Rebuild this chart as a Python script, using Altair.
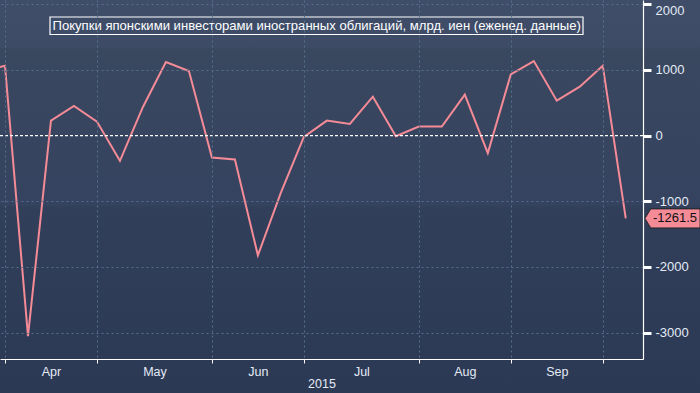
import altair as alt
import pandas as pd

# weekly data, index 0 = first week of April 2015 (index -1 = last week of March, clipped)
week_idx = list(range(-1, 28))
values = [980, 1064, -3055, 228, 451, 213, -385, 436, 1120, 983, -334, -365, -1824,
          -870, -20, 228, 178, 593, -10, 137, 137, 623, -267, 933, 1135, 532, 745, 1064, -1261.5]

months = ["Apr", "May", "Jun", "Jul", "Aug", "Sep", ""]
month_start_idx = [0, 4, 9, 13, 18, 22, 26]
title_text = "Покупки японскими инвесторами иностранных облигаций, млрд. иен (еженед. данные)"
year_label = "2015"
last_label = "-1261.5"

y_ticks = list(range(-3000, 2001, 500))

df = pd.DataFrame({"i": week_idx, "v": values})
last_df = pd.DataFrame({"i": [week_idx[-1]], "v": [values[-1]], "t": [last_label]})
zero_df = pd.DataFrame({"v": [0]})
bg_df = pd.DataFrame({"a": [0]})

W, H = 643, 359
GRID = "#56708c"
LABEL = "#e4ebf5"
PINK = "#f48b97"

# label expression / offsets for month labels (centred between month boundaries)
label_expr = ""
for m, s in zip(months, month_start_idx):
    label_expr += f"datum.value == {s} ? '{m}' : "
label_expr += "''"
long_months = [s for s, e in zip(month_start_idx[:-1], month_start_idx[1:]) if e - s == 5]
long_test = " || ".join(f"datum.value == {s}" for s in long_months)

x_scale = alt.Scale(domain=[-0.217, 27.75], nice=False, zero=False)
y_scale = alt.Scale(domain=[-3403, 2065], nice=False, zero=False)

x_axis = alt.Axis(
    values=month_start_idx,
    labelExpr=label_expr,
    labelOffset={"condition": {"test": long_test, "value": 57.5}, "value": 46},
    labelColor=LABEL, labelFontSize=12.5, labelFont="Liberation Sans",
    labelPadding=2, labelAngle=0,
    tickColor="white", tickSize=4, tickWidth=1,
    domainColor="white", domainWidth=1.2,
    grid=True, gridColor=GRID, gridDash=[2, 3], gridWidth=1,
    title=year_label, titleColor=LABEL, titleFontSize=12.5, titleFont="Liberation Sans",
    titleFontWeight="normal", titlePadding=0,
    zindex=1,
)

y_axis = alt.Axis(
    orient="right",
    values=y_ticks,
    labelExpr="datum.value % 1000 == 0 ? datum.value : ''",
    labelColor=LABEL, labelFontSize=13, labelFont="Liberation Sans",
    labelPadding=4,
    labelBaseline={"condition": {"test": "datum.value == 2000", "value": "top"}, "value": "middle"},
    tickColor="white",
    tickSize={"condition": {"test": "datum.value % 1000 == 0", "value": 8}, "value": 4},
    tickWidth={"condition": {"test": "datum.value % 1000 == 0", "value": 3}, "value": 1.2},
    domainColor="white", domainWidth=1.2,
    grid=True, gridColor=GRID, gridDash=[2, 3], gridWidth=1,
    gridOpacity={"condition": {"test": "datum.value % 1000 == 0 && datum.value != 0", "value": 1}, "value": 0},
    title=None,
    zindex=1,
)

bg = alt.Chart(bg_df).mark_rect(
    clip=False,
    fill=alt.Gradient(
        gradient="linear", x1=0, x2=0, y1=0, y2=1,
        stops=[
            alt.GradientStop(offset=0, color="#3f4d69"),
            alt.GradientStop(offset=0.12, color="#3d4b67"),
            alt.GradientStop(offset=0.125, color="#39475f"),
            alt.GradientStop(offset=0.52, color="#354360"),
            alt.GradientStop(offset=0.53, color="#313f5a"),
            alt.GradientStop(offset=1, color="#2c3955"),
        ],
    ),
).encode(x=alt.value(0), x2=alt.value(700), y=alt.value(0), y2=alt.value(393))

line = alt.Chart(df).mark_line(color=PINK, strokeWidth=2, clip=True).encode(
    x=alt.X("i:Q", scale=x_scale, axis=x_axis),
    y=alt.Y("v:Q", scale=y_scale, axis=y_axis),
)

zero = alt.Chart(zero_df).mark_rule(color="white", strokeDash=[3, 2], strokeWidth=1.3).encode(
    y=alt.Y("v:Q", scale=y_scale)
)

title_box = alt.Chart(bg_df).mark_rect(fill=None, stroke="white", strokeWidth=1.2, clip=False).encode(
    x=alt.value(50), x2=alt.value(583), y=alt.value(17), y2=alt.value(34.5)
)
title_txt = alt.Chart(bg_df).mark_text(
    text=title_text, align="left", baseline="middle", color="white",
    fontSize=13.1, font="Liberation Sans", clip=False,
).encode(x=alt.value(52.5), y=alt.value(26))

tag = alt.Chart(last_df).mark_point(
    shape="M-1,0 L-0.79,-0.345 L1,-0.345 L1,0.345 L-0.79,0.345 Z",
    filled=True, fill=PINK, stroke="#1a1a1a", strokeWidth=0.8, opacity=1,
    size=3025, xOffset=29.5, clip=False,
).encode(x=alt.value(W), y=alt.Y("v:Q", scale=y_scale))

tag_txt = alt.Chart(last_df).mark_text(
    align="left", baseline="middle", dx=10, color="#111111",
    fontSize=13, font="Liberation Sans", clip=False,
).encode(x=alt.value(W), y=alt.Y("v:Q", scale=y_scale), text="t:N")

chart = alt.layer(bg, line, zero, title_box, title_txt, tag, tag_txt).properties(
    width=W, height=H,
    padding={"left": 0, "top": 0, "right": 700 - W, "bottom": 393 - H},
    autosize=alt.AutoSizeParams(type="none"),
    background="#2c3955",
).configure_view(stroke=None, fill=None)

chart.save("out.html", embed_options={"renderer": "svg", "actions": False})
